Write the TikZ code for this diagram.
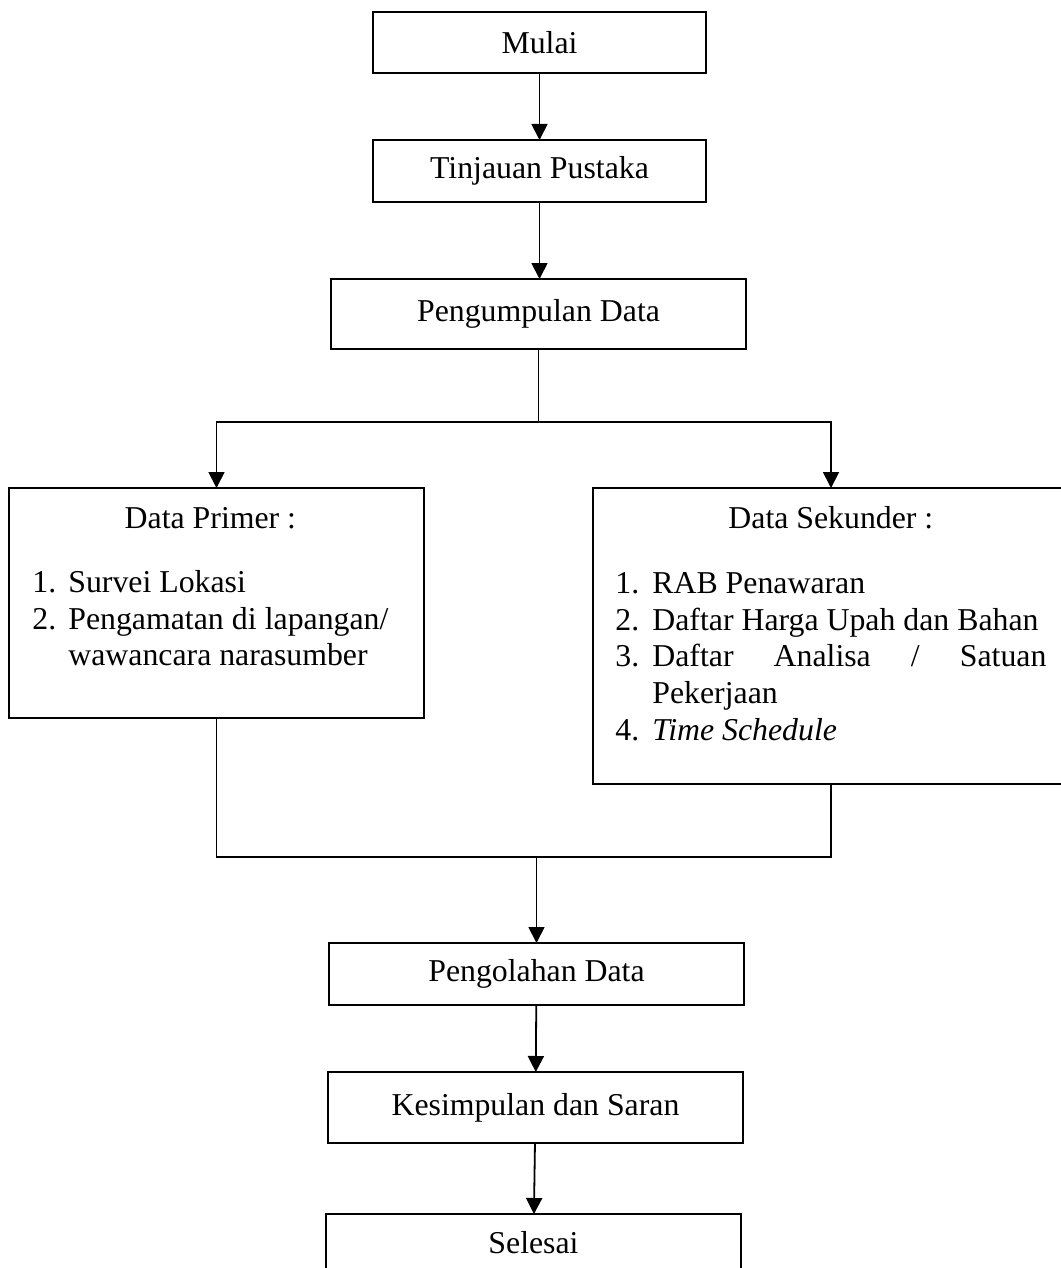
\documentclass[tikz,border=0pt]{standalone}
\usepackage{fontspec}
\setmainfont{Liberation Serif}
\usetikzlibrary{positioning}
\usetikzlibrary{arrows.meta}
\tikzset{node distance=35pt,
    every node/.style={
        font=\fontsize{15.9}{18.4}\selectfont},
    box/.style={
        draw,
        line width=0.9pt,
        inner sep=0pt,
        outer sep=0pt,
        minimum width=207.5pt,
        minimum height=31pt},
    isi/.style={
        inner sep=0pt,
        align=flush left,
        anchor=north west},
    panah/.style={
        draw,
        line width=0.9pt,
        -{Triangle[width=8pt,length=8pt]}},
    garis/.style={
        draw,
        line width=0.9pt}}

\begin{document}
\begin{tikzpicture}
        \useasboundingbox (0,0) rectangle (530pt,-634pt);

        \node[box,minimum width=166.5pt,minimum height=30.5pt] (1) at (269.75pt,-21.25pt) {Mulai};
        \node[box,minimum width=166.5pt,below=33.5pt of 1] (2) {Tinjauan Pustaka};
        \node[box,minimum height=35pt,below=38.5pt of 2,xshift=-0.5pt] (3) {Pengumpulan Data};
        \node[box,minimum height=115pt,below=69.5pt of 3,xshift=-161pt] (4) {};
        \node[box,minimum width=238pt,minimum height=148pt,below=69.5pt of 3,xshift=146.25pt] (5) {};
        \node[box,below=297pt of 3,xshift=-1pt] (6) {Pengolahan Data};
        \node[box,minimum height=35.5pt,below=33.5pt of 6,xshift=-0.5pt] (7) {Kesimpulan dan Saran};
        \node[box,minimum height=29pt,below=35.5pt of 7,xshift=-1pt] (8) {Selesai};

        \node[isi,text width=178pt] (4a) at ([xshift=11.5pt,yshift=-9.5pt]4.north west) {\makebox[178pt][c]{Data Primer :}\\[13.5pt]
            \makebox[18pt][l]{1.}Survei Lokasi\\
            \makebox[18pt][l]{2.}\makebox[160pt][s]{Pengamatan di lapangan/}\\
            \hspace*{18pt}wawancara narasumber};
        \node[isi,text width=215.5pt] (5a) at ([xshift=11pt,yshift=-9pt]5.north west) {\makebox[215.5pt][c]{Data Sekunder :}\\[14pt]
            \makebox[18.5pt][l]{1.}RAB Penawaran\\
            \makebox[18.5pt][l]{2.}Daftar Harga Upah dan Bahan\\
            \makebox[18.5pt][l]{3.}\makebox[197pt][s]{Daftar Analisa / Satuan}\\
            \hspace*{18.5pt}Pekerjaan\\
            \makebox[18.5pt][l]{4.}\textit{Time Schedule}};

        \coordinate (c1) at ([yshift=-36.5pt]3.south);
        \coordinate (c2) at ([yshift=43pt]6.north);

        \draw[panah] (1) -- (2);
        \draw[panah] (2.south) -- (2.south |- 3.north);
        \draw[garis] (3.south) -- (c1);
        \draw[panah] (c1) -| (4.north);
        \draw[panah] (c1) -| (5.north);
        \draw[garis] (4.south) |- (c2) -| (5.south);
        \draw[panah] (c2) -- (6.north);
        \draw[panah] (6) -- (7);
        \draw[panah] (7) -- (8);
    \end{tikzpicture}
\end{document}
